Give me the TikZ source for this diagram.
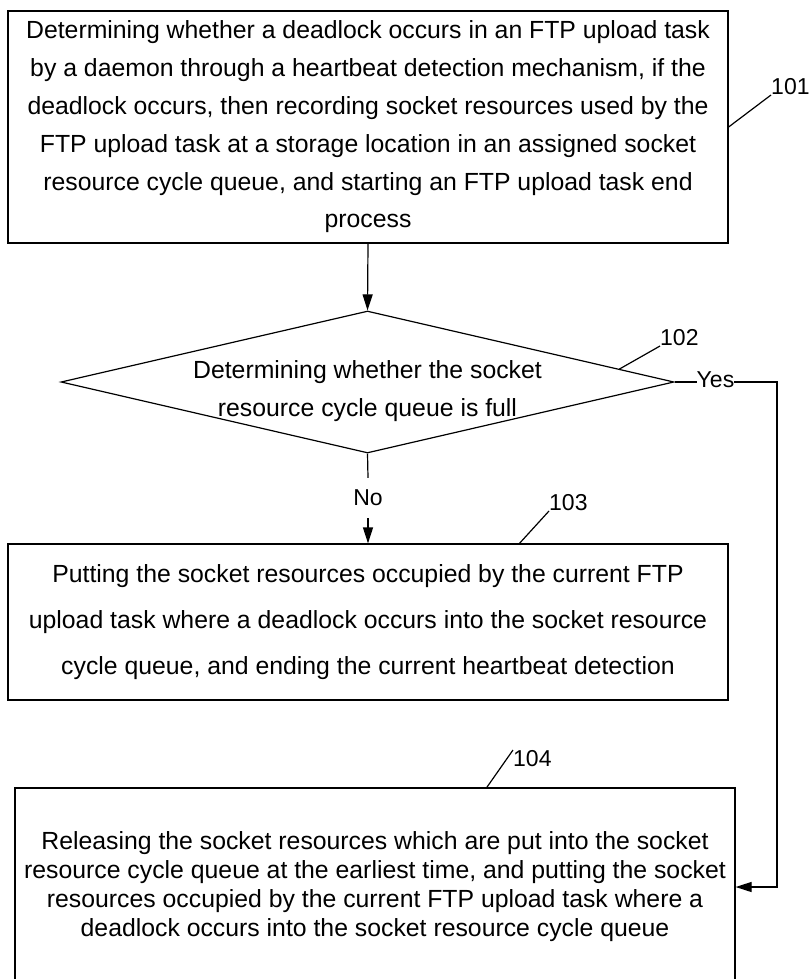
\documentclass[tikz,border=0pt]{standalone}
\usepackage{fontspec}
\setmainfont{Liberation Sans}
\usetikzlibrary{shapes.geometric,arrows.meta,calc}

\begin{document}
\begin{tikzpicture}[x=1pt, y=-1pt,
        box/.style={draw, line width=1.2pt, minimum width=720pt, inner sep=0pt, align=center},
        decision/.style={draw, diamond, line width=1.2pt, minimum width=613pt, minimum height=142pt, inner sep=0pt},
        tag/.style={inner sep=0pt, font=\fontsize{23}{27}\selectfont},
        leader/.style={line width=1.2pt},
        flow/.style={line width=1.2pt, -{Triangle[length=16pt, width=10pt]}}]

        \useasboundingbox (0, 0) rectangle (811, 979);

        \node[box, minimum height=232pt, font=\fontsize{24.8}{37.8}\selectfont] (step1) at (368, 127)
        {Determining whether a deadlock occurs in an FTP upload task\\
         by a daemon through a heartbeat detection mechanism, if the\\
         deadlock occurs, then recording socket resources used by the\\
         FTP upload task at a storage location in an assigned socket\\
         resource cycle queue, and starting an FTP upload task end\\
         process};

        \node[decision] (dec) at (367.5, 382) {};
        \node[align=center, inner sep=0pt, font=\fontsize{24.8}{38}\selectfont] (dectext) at (367.5, 391)
        {Determining whether the socket\\ resource cycle queue is full};

        \node[box, minimum height=156pt, font=\fontsize{24.8}{46}\selectfont] (step3) at (368, 622)
        {Putting the socket resources occupied by the current FTP\\
         upload task where a deadlock occurs into the socket resource\\
         cycle queue, and ending the current heartbeat detection};

        \node[box, minimum height=198pt, font=\fontsize{24.8}{29}\selectfont] (step4) at (375, 887)
        {Releasing the socket resources which are put into the socket\\
         resource cycle queue at the earliest time, and putting the socket\\
         resources occupied by the current FTP upload task where a\\
         deadlock occurs into the socket resource cycle queue};

        \node[tag, anchor=south west] (l101) at (771, 95) {101};
        \node[tag, anchor=south west] (l102) at (660, 346) {102};
        \node[tag, anchor=south west] (l103) at (549, 511) {103};
        \node[tag, anchor=north west] (l104) at (513, 750) {104};
        \node[tag] (yes) at (715.5, 380) {Yes};
        \node[tag, inner ysep=12pt] (no) at (368, 498) {No};
        \coordinate (bend) at (777, 382);

        \draw[flow] (step1.south) -- (dec.north);
        \draw[leader] (dec.south) -- (no.north);
        \draw[flow] (no.south) -- (step3.north);
        \draw[leader] (dec.east) -- (dec.east -| yes.west);
        \draw[flow] (dec.east -| yes.east) -- (bend) |- (step4.east);

        \draw[leader] (step1.east) -- (l101.south west);
        \draw[leader] ($(dec.east)!0.18!(dec.north)$) -- (l102.south west);
        \draw[leader] ($(step3.north west)!0.71!(step3.north east)$) -- (l103.south west);
        \draw[leader] ($(step4.north west)!0.655!(step4.north east)$) -- (l104.north west);

\end{tikzpicture}
\end{document}
